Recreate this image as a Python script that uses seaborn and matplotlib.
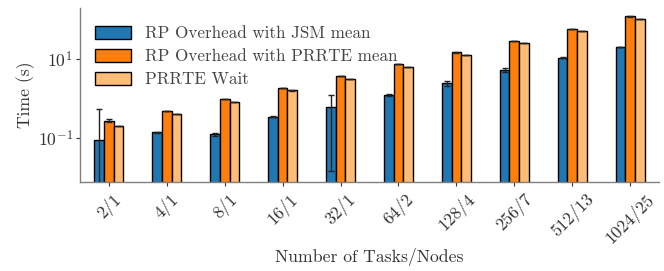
import numpy as np
import pandas as pd
import matplotlib
matplotlib.use("Agg")
import matplotlib.pyplot as plt
import seaborn as sns

categories = ["2/1", "4/1", "8/1", "16/1", "32/1", "64/2", "128/4", "256/7", "512/13", "1024/25"]
series_names = ["RP Overhead with JSM mean", "RP Overhead with PRRTE mean", "PRRTE Wait"]
jsm_mean = [0.089, 0.142, 0.126, 0.35, 0.61, 1.23, 2.43, 5.36, 10.8, 20.5]
jsm_err = [0.45, 0.004, 0.012, 0.004, 0.595, 0.05, 0.3, 0.6, 0.2, 0.3]
prrte_mean = [0.277, 0.49, 0.99, 1.87, 3.7, 7.47, 14.8, 29.0, 58.5, 120.0]
prrte_err = [0.02, 0.01, 0.01, 0.03, 0.05, 0.1, 0.2, 0.4, 0.8, 1.5]
wait_mean = [0.20, 0.405, 0.81, 1.61, 3.16, 6.4, 12.8, 25.4, 51.0, 103.0]
wait_err = [0.003, 0.005, 0.008, 0.02, 0.03, 0.06, 0.1, 0.3, 0.5, 1.0]

palette = ["#1f77b4", "#ff7f0e", "#ffbb78"]

df = pd.DataFrame({
    "cat": categories * 3,
    "series": [series_names[0]] * 10 + [series_names[1]] * 10 + [series_names[2]] * 10,
    "value": jsm_mean + prrte_mean + wait_mean,
})
errs = jsm_err + prrte_err + wait_err

sns.set_style("ticks")
plt.rcParams["font.family"] = ["cmr10", "DejaVu Serif"]
plt.rcParams["mathtext.fontset"] = "cm"
plt.rcParams["axes.formatter.use_mathtext"] = True
plt.rcParams["axes.unicode_minus"] = False

fig = plt.figure(figsize=(6.64, 2.71), dpi=100)
ax = fig.add_axes([0.1205, 0.328, 0.872, 0.642])

sns.barplot(data=df, x="cat", y="value", hue="series", hue_order=series_names,
            palette=palette, width=0.5, gap=0, errorbar=None,
            edgecolor="black", linewidth=1.0, saturation=1, ax=ax)

bars = [p for p in ax.patches if p.get_height() > 0][:30]
xs = [p.get_x() + p.get_width() / 2 for p in bars]
hs = [p.get_height() for p in bars]
ax.errorbar(xs, hs, yerr=errs, fmt="none", ecolor="#222222", elinewidth=1.0,
            capsize=2, capthick=1.0, zorder=5)

ax.set_yscale("log")
ax.set_ylim(0.0077, 195)
ax.set_xlim(-0.5, 9.5)
ax.set_yticks([0.1, 10])
ax.yaxis.set_minor_locator(matplotlib.ticker.NullLocator())
ax.set_ylabel("Time (s)", fontsize=12.7, color="#333333", labelpad=2)
ax.set_xlabel("Number of Tasks/Nodes", fontsize=12.7, color="#333333", labelpad=1)
ax.tick_params(axis="both", labelsize=12.7, length=3, width=0.8, color="#333333",
               labelcolor="#333333")
ax.tick_params(axis="x", pad=3)
ax.tick_params(axis="y", pad=2)
plt.setp(ax.get_xticklabels(), rotation=45, ha="center")

for s in ["top", "right"]:
    ax.spines[s].set_visible(False)
for s in ["left", "bottom"]:
    ax.spines[s].set_color("#808080")
    ax.spines[s].set_linewidth(1.0)

leg = ax.legend(loc="upper left", frameon=False, fontsize=12.25,
                bbox_to_anchor=(0.0, 0.985), handlelength=2.1, handleheight=0.73,
                handletextpad=0.8, labelspacing=0.45, borderpad=0.4)
for t in leg.get_texts():
    t.set_color("#444444")

fig.savefig("out.png", dpi=100)
